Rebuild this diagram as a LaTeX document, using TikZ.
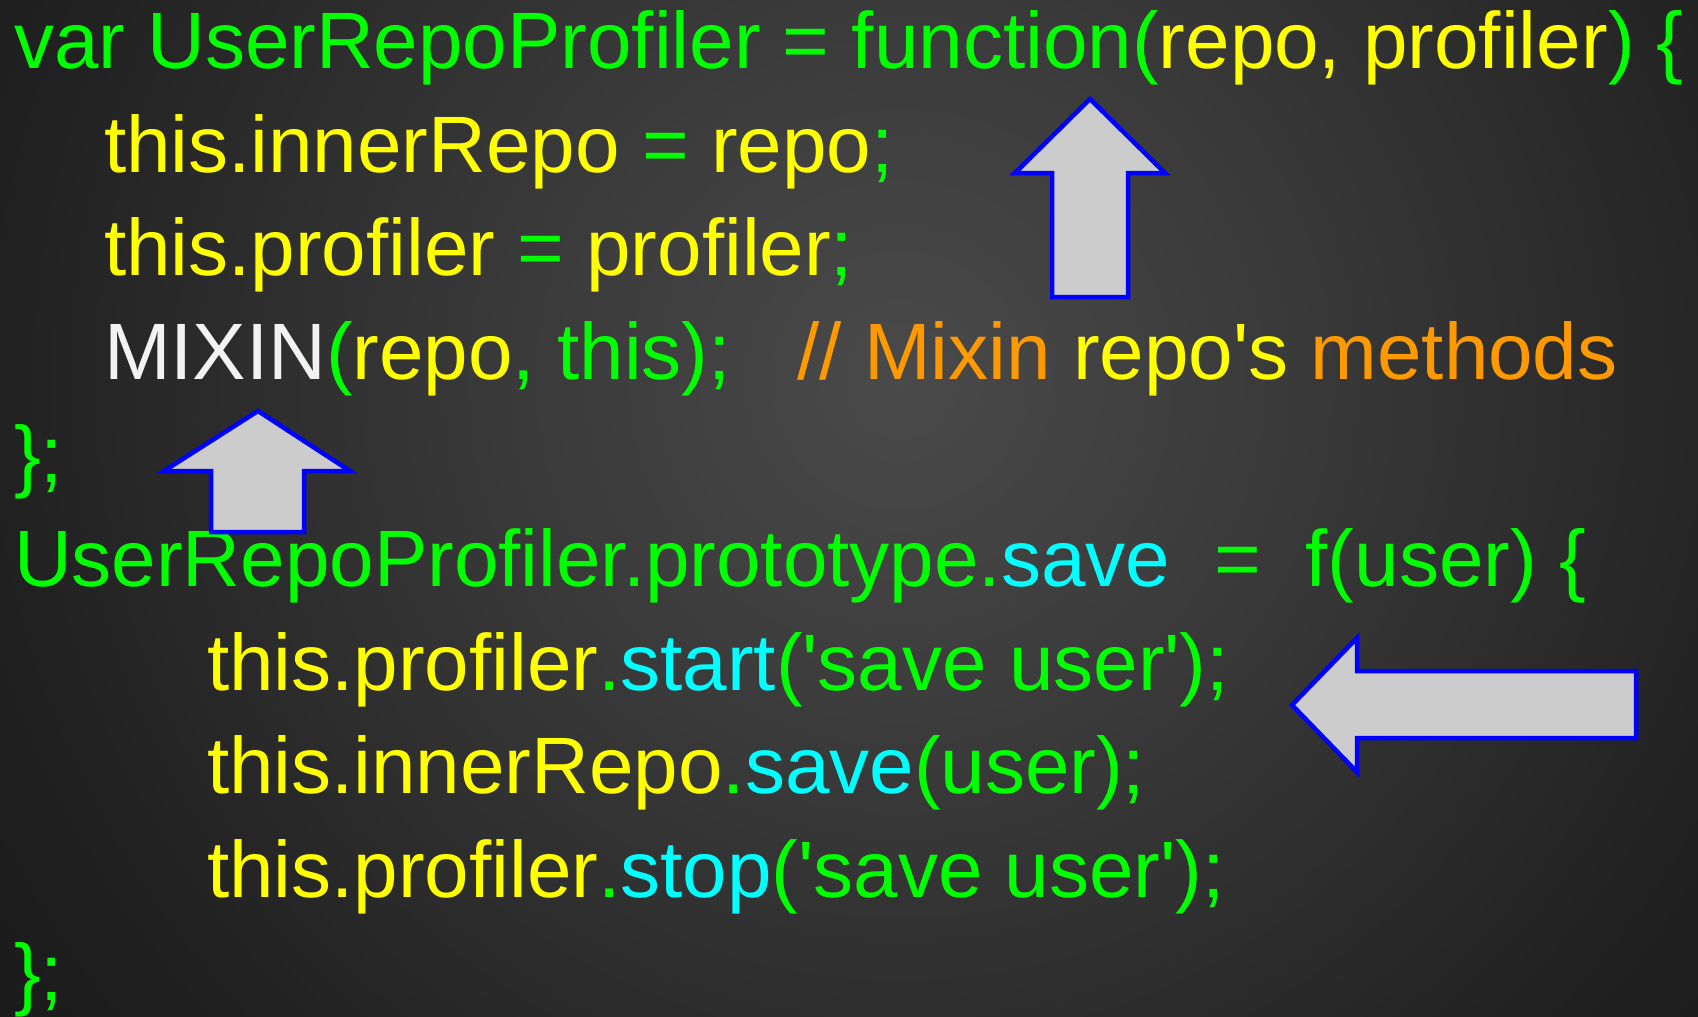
\documentclass[tikz,border=0pt]{standalone}
\usepackage{fontspec}
\newfontfamily\codefont{Liberation Sans}[Ligatures=TeXOff]

\definecolor{kwgreen}{HTML}{00FF00}
\definecolor{idyellow}{HTML}{FFFF00}
\definecolor{mxwhite}{HTML}{F2F2F2}
\definecolor{cmorange}{HTML}{FF9900}
\definecolor{mtcyan}{HTML}{00FFFF}
\definecolor{arrowfill}{HTML}{CCCCCC}
\definecolor{arrowline}{HTML}{0000FF}
\definecolor{bgA}{HTML}{4A4A4A}
\definecolor{bgB}{HTML}{383838}
\definecolor{bgC}{HTML}{202020}
\definecolor{bgD}{HTML}{181818}
\definecolor{bgE}{HTML}{0E0E0E}

\newcommand\hlG[1]{\textcolor{kwgreen}{#1}}
\newcommand\hlY[1]{\textcolor{idyellow}{#1}}
\newcommand\hlW[1]{\textcolor{mxwhite}{#1}}
\newcommand\hlO[1]{\textcolor{cmorange}{#1}}
\newcommand\hlC[1]{\textcolor{mtcyan}{#1}}
\newcommand\sq{'}

% glow fading outwards; stops are laid out for a 2000 x 2000 shaded square
\pgfdeclareradialshading{slideglow}{\pgfpoint{0bp}{0bp}}{%
  color(0bp)=(bgA); color(10.6bp)=(bgB); color(23bp)=(bgC);
  color(30bp)=(bgD); color(35.4bp)=(bgE); color(50bp)=(bgE)}

\tikzset{
  codeline/.style={anchor=base west, inner sep=0pt, outer sep=0pt,
    font=\codefont\fontsize{80}{96}\selectfont},
  blockarrow/.style={draw=arrowline, fill=arrowfill, line width=4.5pt, line join=miter}
}

\begin{document}
\begin{tikzpicture}[x=1pt, y=-1pt]
  \useasboundingbox (0,0) rectangle (1698,1017);

  % dark backdrop with a soft glow above the middle
  \begin{scope}
    \clip (0,0) rectangle (1698,1017);
    \fill[bgE] (0,0) rectangle (1698,1017);
    \shade[shading=slideglow] (-100,-620) rectangle (1900,1380);
  \end{scope}

  % code lines
  \node[codeline] (l1) at (14,68)
    {\hlG{var UserRepoProfiler = function(}\hlY{repo, profiler}\hlG{) \{}};
  \node[codeline] (l2) at (104,172)
    {\hlY{this.innerRepo}\hlG{\ =\ }\hlY{repo}\hlG{;}};
  \node[codeline] (l3) at (104,275)
    {\hlY{this.profiler}\hlG{\ =\ }\hlY{profiler}\hlG{;}};
  \node[codeline] (l4) at (104,379)
    {\hlW{MIXIN}\hlG{(}\hlY{repo}\hlG{, this);}\ \ \ \hlO{// Mixin}\ \hlY{repo\sq s}\ \hlO{methods}};
  \node[codeline] (l5) at (14,482)
    {\hlG{\};}};
  \node[codeline] (l6) at (14,586)
    {\hlG{UserRepoProfiler.prototype.}\hlC{save}\hlG{\ \ =\ \ f(user) \{}};
  \node[codeline] (l7) at (207,690)
    {\hlY{this.profiler}\hlG{.}\hlC{start}\hlG{(\sq save user\sq);}};
  \node[codeline] (l8) at (207,793)
    {\hlY{this.innerRepo}\hlG{.}\hlC{save}\hlG{(user);}};
  \node[codeline] (l9) at (207,897)
    {\hlY{this.profiler}\hlG{.}\hlC{stop}\hlG{(\sq save user\sq);}};
  \node[codeline] (l10) at (14,1000)
    {\hlG{\};}};

  % block arrows
  \draw[blockarrow] (1090,99) -- (1165,173) -- (1128,173) -- (1128,297)
    -- (1052,297) -- (1052,173) -- (1015,173) -- cycle;
  \draw[blockarrow] (258,411) -- (350,471) -- (304,471) -- (304,532)
    -- (211,532) -- (211,471) -- (164,471) -- cycle;
  \draw[blockarrow] (1292,705) -- (1357,638) -- (1357,671) -- (1636,671)
    -- (1636,738) -- (1357,738) -- (1357,772) -- cycle;
\end{tikzpicture}
\end{document}
